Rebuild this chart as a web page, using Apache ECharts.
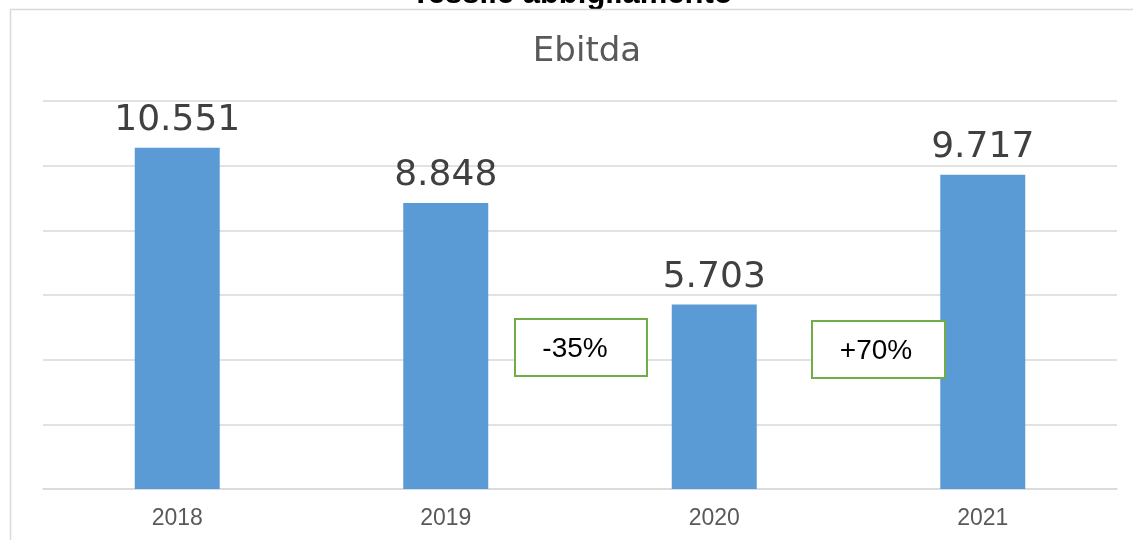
<!DOCTYPE html>
<html>
<head>
<meta charset="utf-8">
<script src="https://cdn.jsdelivr.net/npm/echarts@6/dist/echarts.min.js"></script>
<style>
html,body{margin:0;padding:0;background:#fff;}
#chart{width:1133px;height:540px;}
</style>
</head>
<body>
<div id="chart"></div>
<script>
var categories = ['2018', '2019', '2020', '2021'];
var ebitdaValues = [10551, 8848, 5703, 9717];
var changeLabels = ['-35%', '+70%'];
var chartTitle = 'Ebitda';
var topTitle = 'Tessile abbigliamento';

function fmtIt(v) {
  return String(v).replace(/\B(?=(\d{3})+(?!\d))/g, '.');
}

var chart = echarts.init(document.getElementById('chart'));
chart.setOption({
  animation: false,
  backgroundColor: '#ffffff',
  title: {
    text: chartTitle,
    left: 582,
    textAlign: 'center',
    top: 30,
    textStyle: {fontFamily: 'DejaVu Sans', fontSize: 34, fontWeight: 'normal', color: '#595959'}
  },
  grid: {left: 43, right: 16, top: 101, bottom: 51},
  xAxis: {
    type: 'category',
    data: categories,
    axisLine: {lineStyle: {color: '#d9d9d9', width: 1.5}},
    axisTick: {show: false},
    axisLabel: {fontFamily: 'Liberation Sans', fontSize: 23, color: '#595959', margin: 18}
  },
  yAxis: {
    type: 'value',
    min: 0, max: 12000, interval: 2000,
    axisLabel: {show: false},
    axisLine: {show: false},
    axisTick: {show: false},
    splitLine: {lineStyle: {color: '#d9d9d9', width: 1.5}}
  },
  series: [{
    type: 'bar',
    data: ebitdaValues,
    barWidth: 85,
    itemStyle: {color: '#5B9BD5'},
    label: {
      show: true,
      position: 'top',
      distance: 9,
      fontFamily: 'DejaVu Sans',
      fontSize: 36,
      color: '#404040',
      formatter: function (p) { return fmtIt(p.value); }
    }
  }],
  graphic: [
    {type: 'text', z: 99, x: 572, y: 10, style: {text: topTitle, fontFamily: 'Liberation Sans', fontWeight: 'bold', fontSize: 31, fill: '#000', textAlign: 'center', textVerticalAlign: 'bottom'}},
    {type: 'rect', z: 99, shape: {x: 0, y: 9, width: 1133, height: 12}, style: {fill: '#fff'}, silent: true},
    {type: 'line', z: 100, shape: {x1: 10.5, y1: 9.5, x2: 10.5, y2: 540}, style: {stroke: '#d9d9d9', lineWidth: 1.5}, silent: true},
    {type: 'line', z: 100, shape: {x1: 10, y1: 9.5, x2: 1133, y2: 9.5}, style: {stroke: '#d9d9d9', lineWidth: 1.5}, silent: true},
    {type: 'group', z: 100, left: 514, top: 318, children: [
      {type: 'rect', z: 100, shape: {x: 0, y: 0, width: 132, height: 57}, style: {fill: '#fff', stroke: '#70AD47', lineWidth: 2}},
      {type: 'text', z: 101, x: 60, y: 30, style: {text: changeLabels[0], fontFamily: 'Liberation Sans', fontSize: 28, fill: '#000', textAlign: 'center', textVerticalAlign: 'middle'}}
    ]},
    {type: 'group', z: 100, left: 811, top: 320, children: [
      {type: 'rect', z: 100, shape: {x: 0, y: 0, width: 133, height: 57}, style: {fill: '#fff', stroke: '#70AD47', lineWidth: 2}},
      {type: 'text', z: 101, x: 64, y: 30, style: {text: changeLabels[1], fontFamily: 'Liberation Sans', fontSize: 28, fill: '#000', textAlign: 'center', textVerticalAlign: 'middle'}}
    ]}
  ]
});
</script>
</body>
</html>
